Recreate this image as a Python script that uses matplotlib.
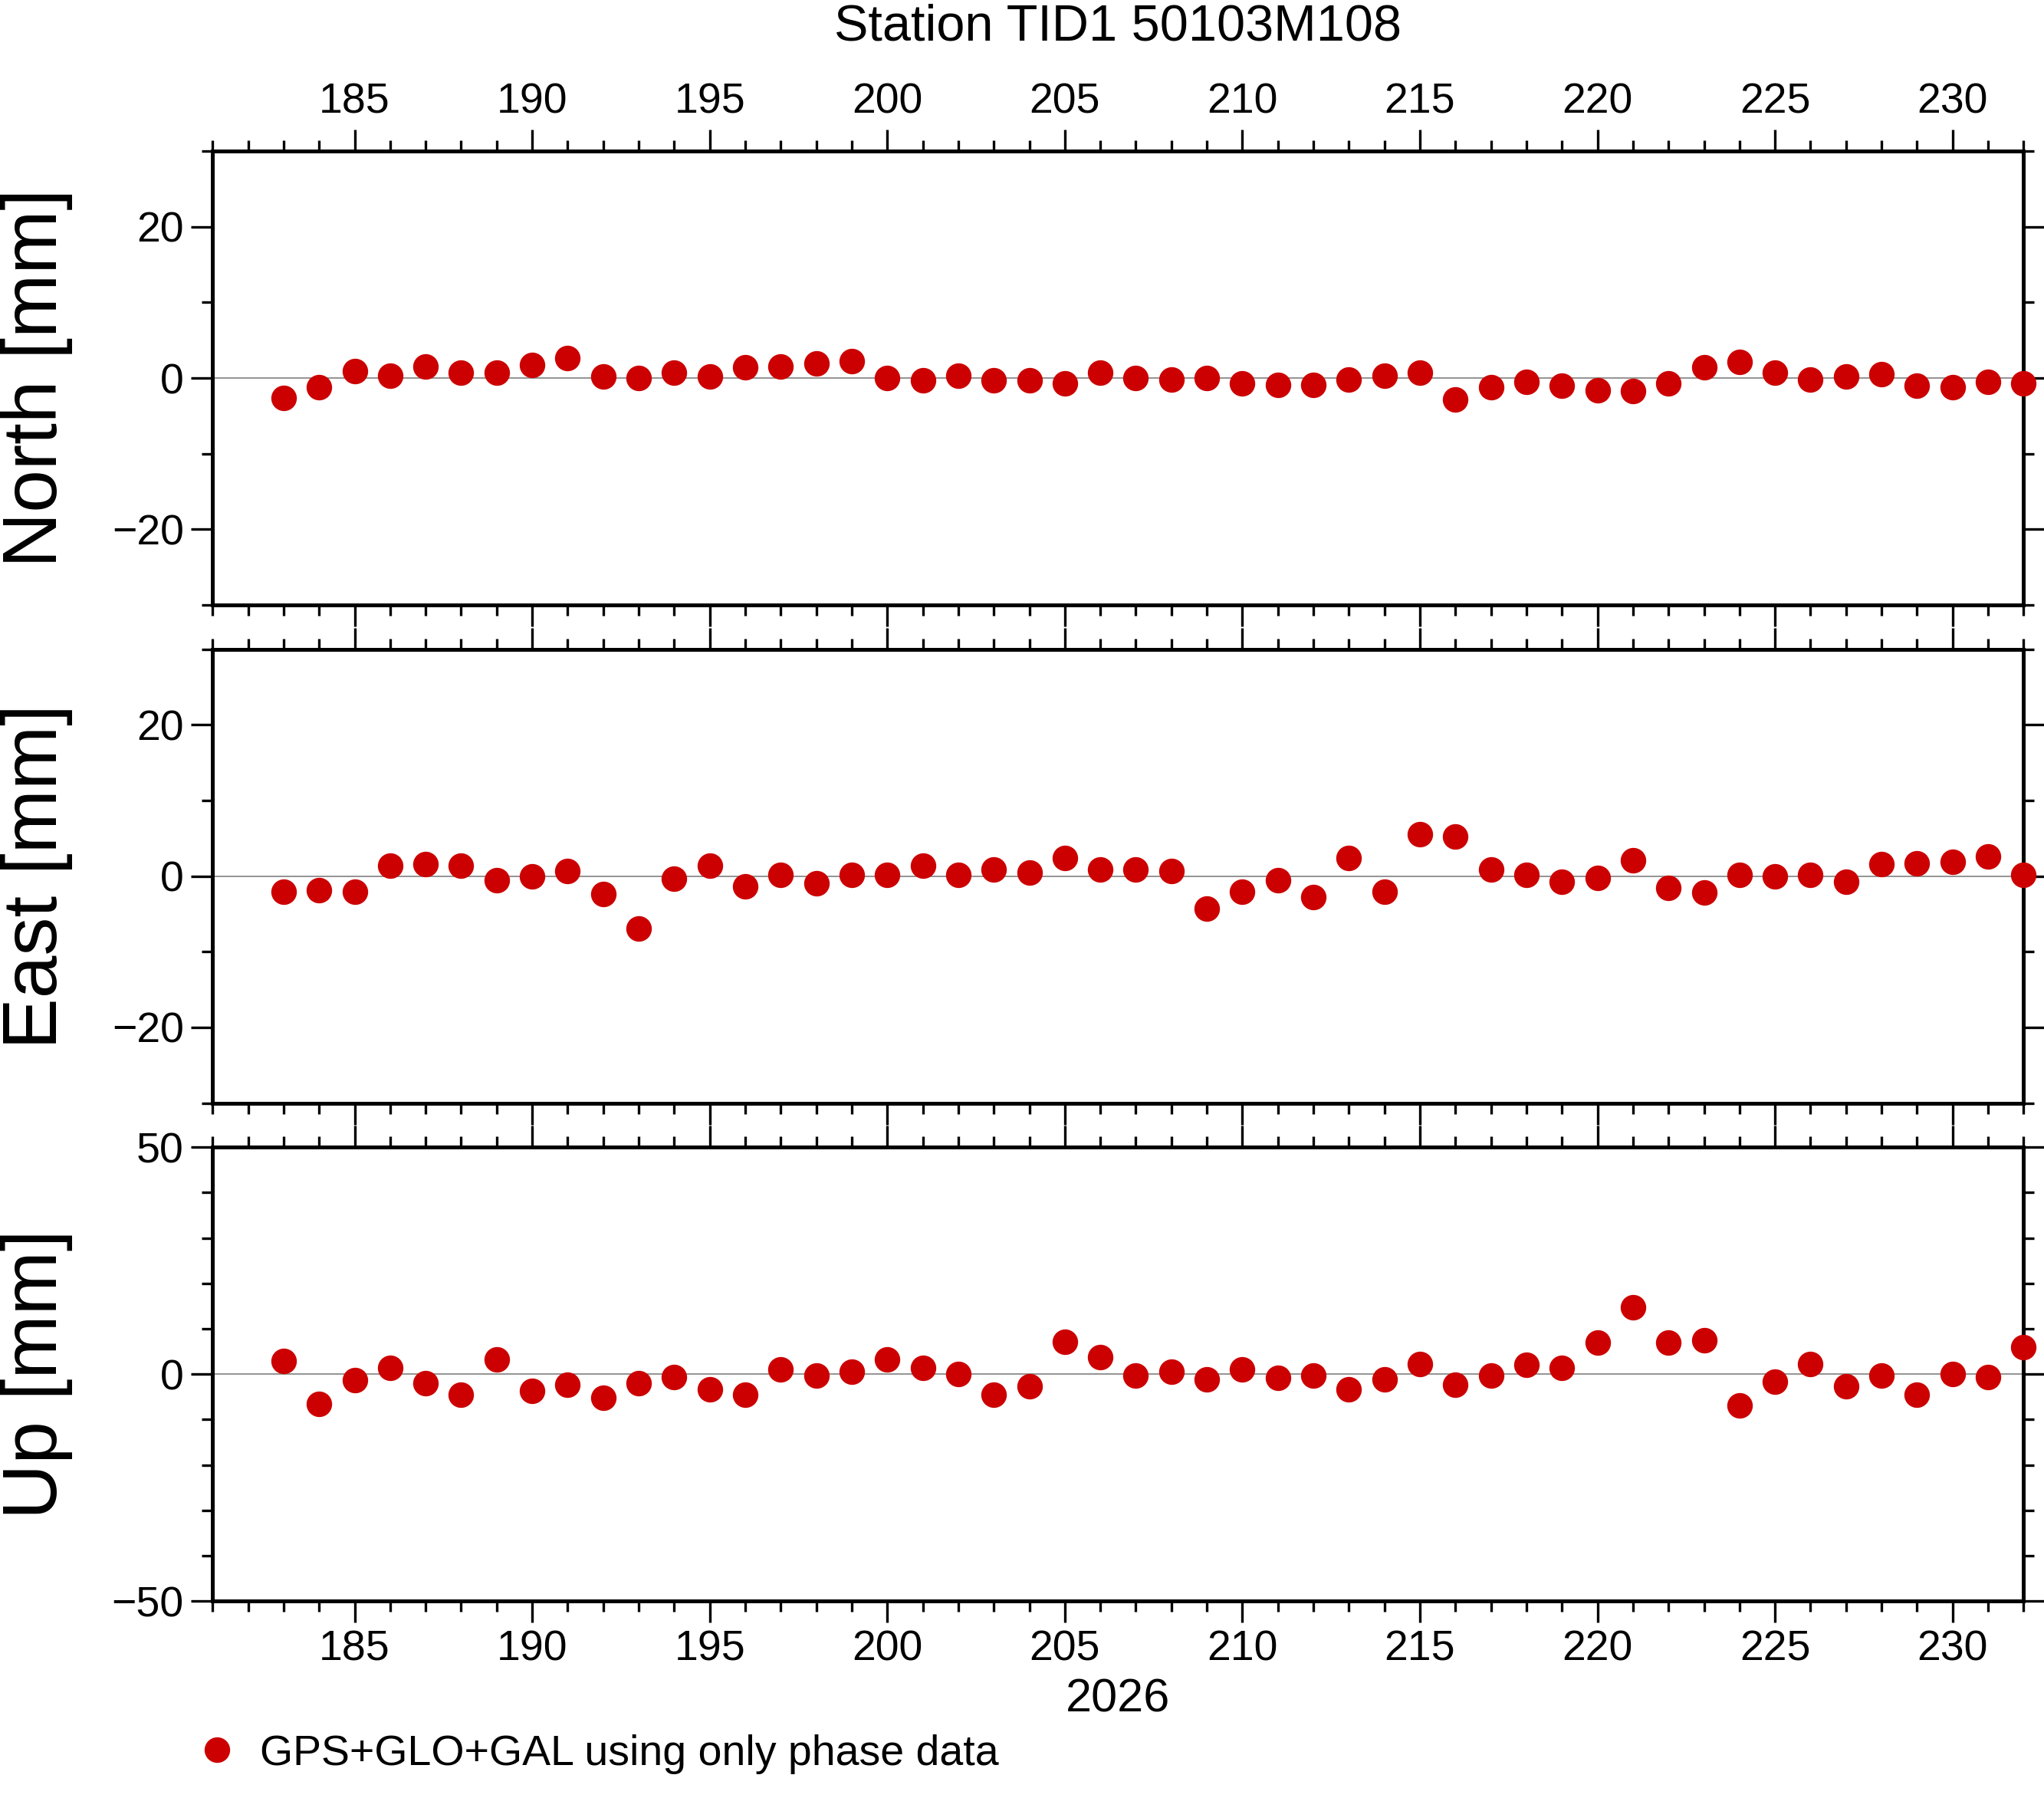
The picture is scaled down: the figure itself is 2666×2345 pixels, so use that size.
import numpy as np
import matplotlib
matplotlib.use("Agg")
import matplotlib.pyplot as plt
from matplotlib.ticker import MultipleLocator

days = np.arange(183, 233)

north = [-2.6, -1.2, 0.9, 0.3, 1.5, 0.7, 0.7, 1.7, 2.6, 0.2,
         0.0, 0.7, 0.2, 1.4, 1.5, 1.9, 2.2, 0.0, -0.3, 0.3,
         -0.3, -0.3, -0.7, 0.7, 0.0, -0.2, 0.0, -0.7, -0.9, -0.9,
         -0.2, 0.3, 0.7, -2.8, -1.2, -0.5, -1.0, -1.6, -1.7, -0.7,
         1.4, 2.1, 0.7, -0.2, 0.2, 0.5, -1.0, -1.2, -0.5, -0.7]
east = [-2.1, -1.9, -2.1, 1.4, 1.6, 1.4, -0.5, 0.0, 0.7, -2.4,
        -6.9, -0.3, 1.4, -1.4, 0.2, -1.0, 0.2, 0.2, 1.4, 0.2,
        0.9, 0.5, 2.4, 0.9, 0.9, 0.7, -4.3, -2.1, -0.5, -2.8,
        2.4, -2.1, 5.5, 5.2, 0.9, 0.2, -0.7, -0.2, 2.1, -1.6,
        -2.2, 0.2, 0.0, 0.2, -0.7, 1.6, 1.7, 1.9, 2.6, 0.2]
up = [2.9, -6.6, -1.4, 1.4, -2.0, -4.6, 3.2, -3.7, -2.3, -5.2,
      -2.0, -0.6, -3.4, -4.6, 1.1, -0.3, 0.6, 3.2, 1.4, 0.0,
      -4.6, -2.6, 7.2, 3.7, -0.3, 0.6, -1.1, 1.1, -0.9, -0.3,
      -3.4, -1.1, 2.3, -2.3, -0.3, 2.0, 1.4, 6.9, 14.7, 6.9,
      7.5, -6.9, -1.7, 2.3, -2.6, -0.3, -4.6, 0.0, -0.6, 6.0]

panels = [("North [mm]", north, 30, 20, 10),
          ("East [mm]", east, 30, 20, 10),
          ("Up [mm]", up, 50, 50, 10)]

plt.rcParams['font.family'] = ['Liberation Sans', 'DejaVu Sans']
red = "#cc0000"

fig = plt.figure(figsize=(13.33, 11.725), dpi=200)
tops = [0.916, 0.639, 0.362]
h = 0.2525
for i, (label, vals, lim, major, minor) in enumerate(panels):
    ax = fig.add_axes([0.104, tops[i] - h, 0.886, h])
    ax.axhline(0, color="gray", lw=0.6, zorder=1)
    ax.plot(days, vals, "o", color=red, ms=11, clip_on=False, zorder=3)
    ax.set_xlim(181, 232)
    ax.set_ylim(-lim, lim)
    ax.xaxis.set_major_locator(MultipleLocator(5))
    ax.xaxis.set_minor_locator(MultipleLocator(1))
    ax.yaxis.set_major_locator(MultipleLocator(major))
    ax.yaxis.set_minor_locator(MultipleLocator(minor))
    ax.tick_params(which="both", direction="out", top=True, right=True,
                   labelsize=20, width=1.2)
    ax.tick_params(which="major", length=10)
    ax.tick_params(which="minor", length=5)
    ax.tick_params(axis="x", labelbottom=(i == 2), labeltop=(i == 0))
    for s in ax.spines.values():
        s.set_linewidth(1.8)
    ax.set_ylabel(label, fontsize=36, labelpad=12)
    ax.yaxis.set_label_coords(-0.077, 0.5)
    if i == 0:
        ax.set_title("Station TID1 50103M108", fontsize=24, pad=52)
    if i == 2:
        ax.set_xlabel("2026", fontsize=22, labelpad=4)

fig.legend([plt.Line2D([], [], ls="", marker="o", color=red, ms=11)],
           ["GPS+GLO+GAL using only phase data"], loc="lower left",
           bbox_to_anchor=(0.075, -0.008), frameon=False, fontsize=20,
           handletextpad=0.4, handlelength=1.2)

fig.savefig("out.png", dpi=200)
